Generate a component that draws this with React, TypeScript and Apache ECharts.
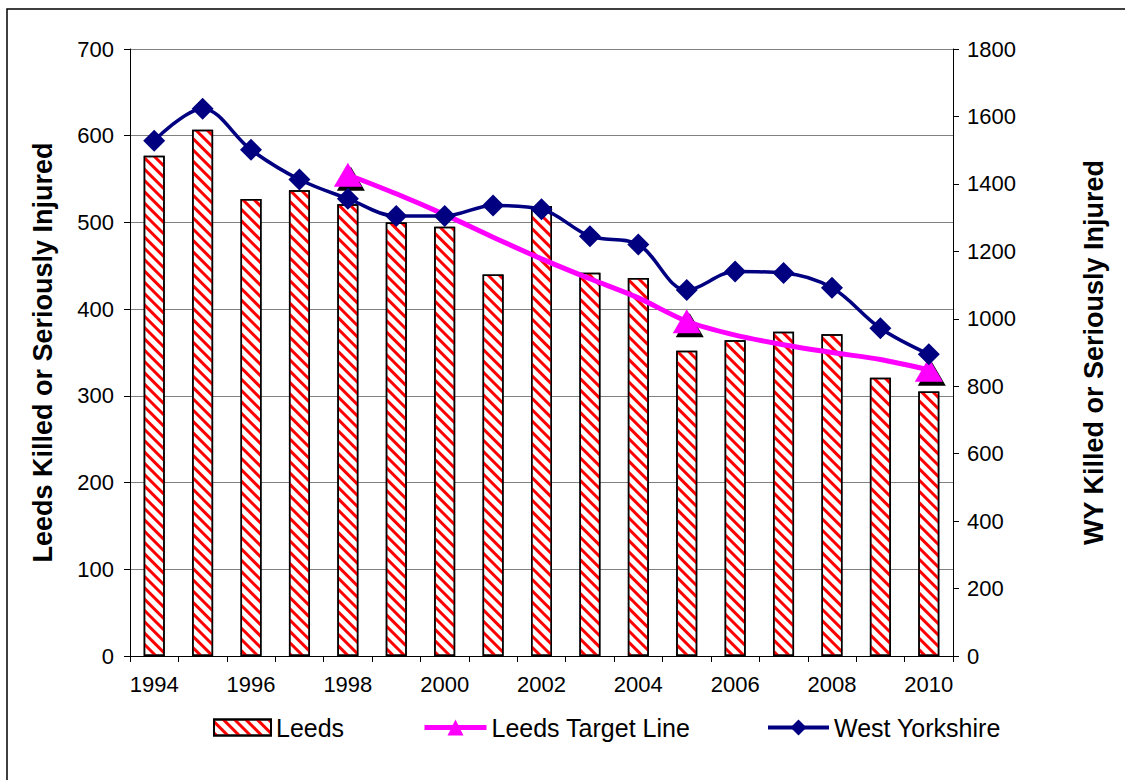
import React, { useEffect, useRef } from "react";
import * as echarts from "echarts";

const years = ["1994", "1995", "1996", "1997", "1998", "1999", "2000", "2001", "2002", "2003", "2004", "2005", "2006", "2007", "2008", "2009", "2010"];
const leedsKsi = [577, 607, 527, 537, 521, 500, 495, 440, 519, 442, 436, 352, 364, 374, 371, 321, 305];
const westYorkshireKsi = [1528, 1623, 1501, 1413, 1356, 1305, 1305, 1336, 1325, 1245, 1220, 1085, 1140, 1136, 1092, 972, 895];
const targetYears = ["1998", "1999", "2000", "2001", "2002", "2003", "2004", "2005", "2006", "2007", "2008", "2009", "2010"];
const leedsTarget = [555, 533, 509, 483, 458, 435, 413, 386, 370, 359, 350, 342, 330];
const targetMarkerYears = ["1998", "2005", "2010"];

const leftMax = 700;
const leftInterval = 100;
const rightMax = 1800;
const rightInterval = 200;

const FONT = "'Liberation Sans', Arial, sans-serif";

export default function App() {
  const ref = useRef<HTMLDivElement>(null);
  useEffect(() => {
    if (!ref.current) return;
    const chart = echarts.init(ref.current, undefined, { renderer: "svg" });

    const targetData = years.map((y) => {
      const i = targetYears.indexOf(y);
      if (i < 0) return "-";
      return { value: leedsTarget[i], symbol: targetMarkerYears.includes(y) ? "triangle" : "none" };
    });
    const shadowData = years.map((y) => {
      const i = targetYears.indexOf(y);
      if (i < 0 || !targetMarkerYears.includes(y)) return "-";
      return leedsTarget[i];
    });

    const legendText = { fontFamily: FONT, fontSize: 25, color: "#000" };

    chart.setOption({
      animation: false,
      backgroundColor: "#fff",
      textStyle: { fontFamily: FONT },
      grid: { left: 130, right: 172, top: 49, bottom: 124, containLabel: false },
      graphic: [
        {
          type: "polyline",
          shape: { points: [[7, 790], [7, 9], [1140, 9]] },
          style: { stroke: "#000", lineWidth: 1.5, fill: null },
          silent: true,
        },
      ],
      legend: [
        {
          left: 208, top: 710, itemWidth: 57, itemHeight: 16, itemGap: 0,
          textStyle: legendText,
          data: [{ name: "Leeds", icon: "rect" }],
        },
        {
          left: 417, top: 710, itemWidth: 62, itemHeight: 20, itemGap: 0,
          textStyle: legendText,
          lineStyle: { width: 5 },
          data: ["Leeds Target Line"],
        },
        {
          left: 761, top: 710, itemWidth: 61, itemHeight: 20, itemGap: 0,
          textStyle: legendText,
          lineStyle: { width: 4 },
          data: ["West Yorkshire"],
        },
      ],
      xAxis: {
        type: "category",
        data: years,
        boundaryGap: true,
        axisLine: { lineStyle: { color: "#000", width: 1 } },
        axisTick: { show: true, interval: 0, length: 6, lineStyle: { color: "#000" } },
        axisLabel: { interval: 1, color: "#000", fontSize: 22, fontFamily: FONT, margin: 17 },
        splitLine: { show: false },
      },
      yAxis: [
        {
          type: "value",
          min: 0,
          max: leftMax,
          interval: leftInterval,
          name: "Leeds Killed or Seriously Injured",
          nameLocation: "middle",
          nameGap: 74,
          nameTextStyle: { fontFamily: FONT, fontSize: 27, fontWeight: "bold", color: "#000" },
          axisLine: { show: true, lineStyle: { color: "#000", width: 1 } },
          axisTick: { show: true, length: 6, lineStyle: { color: "#000" } },
          axisLabel: { color: "#000", fontSize: 22, fontFamily: FONT, margin: 16 },
          splitLine: { show: true, lineStyle: { color: "#808080", width: 1 } },
        },
        {
          type: "value",
          position: "right",
          min: 0,
          max: rightMax,
          interval: rightInterval,
          name: "WY Killed or Seriously Injured",
          nameLocation: "middle",
          nameGap: 127,
          nameTextStyle: { fontFamily: FONT, fontSize: 27, fontWeight: "bold", color: "#000" },
          axisLine: { show: true, lineStyle: { color: "#000", width: 1 } },
          axisTick: { show: true, length: 6, lineStyle: { color: "#000" } },
          axisLabel: { color: "#000", fontSize: 22, fontFamily: FONT, margin: 14, formatter: (v: number) => String(v) },
          splitLine: { show: false },
        },
      ],
      series: [
        {
          name: "Leeds",
          type: "bar",
          data: leedsKsi,
          barWidth: 21,
          yAxisIndex: 0,
          itemStyle: {
            color: "#ffffff",
            borderColor: "#000000",
            borderWidth: 1.5,
            decal: {
              symbol: "rect",
              symbolSize: 1,
              dashArrayX: [1, 0],
              dashArrayY: [3, 5],
              rotation: Math.PI / 4,
              color: "#ff0000",
            },
          },
          z: 2,
        },
        {
          name: "shadow",
          type: "scatter",
          data: shadowData,
          yAxisIndex: 0,
          symbol: "triangle",
          symbolSize: [28, 24],
          symbolOffset: [3, 4],
          itemStyle: { color: "#000", opacity: 1 },
          silent: true,
          z: 3,
        },
        {
          name: "Leeds Target Line",
          type: "line",
          data: targetData,
          yAxisIndex: 0,
          smooth: 0.3,
          symbol: "triangle",
          symbolSize: [28, 24],
          showAllSymbol: true,
          lineStyle: { color: "#ff00ff", width: 5 },
          itemStyle: { color: "#ff00ff", opacity: 1 },
          z: 4,
        },
        {
          name: "West Yorkshire",
          type: "line",
          data: westYorkshireKsi,
          yAxisIndex: 1,
          smooth: 0.35,
          symbol: "diamond",
          symbolSize: 22,
          showAllSymbol: true,
          lineStyle: { color: "#000080", width: 3.5 },
          itemStyle: { color: "#000080", opacity: 1 },
          z: 5,
        },
      ],
    });
    return () => chart.dispose();
  }, []);
  return <div ref={ref} style={{ position: "fixed", left: 0, top: 0, width: 1125, height: 780 }} />;
}
